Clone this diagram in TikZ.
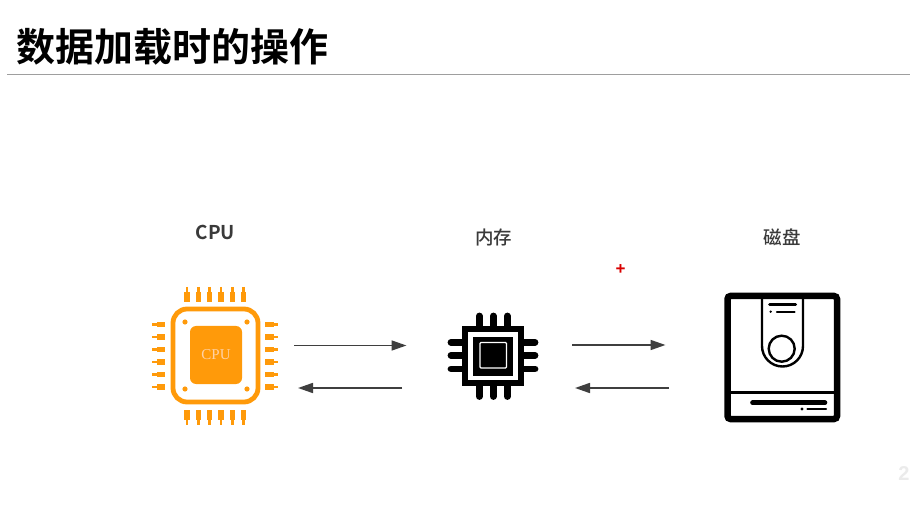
\documentclass[tikz,border=0pt]{standalone}
\usepackage{fontspec}
\setmainfont{Liberation Serif}
\newfontfamily\cjk{Noto Sans CJK SC Medium}
\newfontfamily\cjkb{Noto Sans CJK SC Bold}
\newfontfamily\latn{Liberation Sans}
\definecolor{cpuor}{HTML}{FF9A0A}
\definecolor{lab}{HTML}{3A3A3A}
\definecolor{arr}{HTML}{3F3F3F}
\usetikzlibrary{arrows.meta}
\tikzset{
  lbl/.style={text=lab,inner sep=0pt},
  flow/.style={draw=arr,line width=1.7pt,-{Triangle[length=15pt,width=10pt]},shorten >=0pt},
  thickpin/.style={draw=cpuor,line width=5.5pt},
  thinpin/.style={draw=cpuor,line width=2.6pt},
  mempin/.style={draw=black,line width=6.8pt,line cap=round},
  disk/.style={draw=black,line cap=round},
}
\begin{document}
\begin{tikzpicture}[x=1pt,y=-1pt]
\useasboundingbox (0,0) rectangle (910,510);
\fill[white] (0,0) rectangle (910,510);
% title
\node[anchor=west,inner sep=0pt] (title) at (16.5,46.5) {\fontsize{39}{39}\selectfont\cjkb 数据加载时的操作};
\coordinate (ruleL) at (7,74.5); \coordinate (ruleR) at (910,74.5);
\draw[draw=black!38,line width=1pt] (ruleL) -- (ruleR);
% labels
\node[lbl] (cpulabel) at (215.5,232.5) {\fontsize{19}{19}\selectfont\cjkb CPU};
\node[lbl] (memlabel) at (493.5,237.5) {\fontsize{18.5}{18.5}\selectfont\cjk 内存};
\node[lbl] (disklabel) at (782,237.5) {\fontsize{18.5}{18.5}\selectfont\cjk 磁盘};
\node[inner sep=0pt,text=red!85!black] (plus) at (620.5,269.5) {\fontsize{17}{17}\selectfont\latn\bfseries +};
\node[inner sep=0pt,text=black!8] (pageno) at (904,473.5) {\fontsize{20}{20}\selectfont\latn\bfseries 2};
% CPU chip
\draw[draw=cpuor,line width=4.8pt,rounded corners=14pt] (173,309) rectangle (258,402);
\fill[cpuor,rounded corners=6pt] (190,326) rectangle (242,384);
\node[inner sep=0pt,text=orange!35!white] (cputext) at (216,355) {\fontsize{15}{15}\selectfont CPU};
\foreach \x/\y in {185/322,247/322,185/389,247/389}
  \fill[cpuor] (\x,\y) circle (2.6);
\foreach \x in {187,198.3,209.7,221,232.3,243.3}{
  \draw[thickpin] (\x,292) -- (\x,302);
  \draw[thinpin] (\x,287) -- (\x,292);
  \draw[thickpin] (\x,410) -- (\x,420);
  \draw[thinpin] (\x,420) -- (\x,425);
}
\foreach \y in {324.3,337,349.7,362,374.7,387}{
  \draw[thickpin] (157,\y) -- (165,\y);
  \draw[thinpin] (152,\y) -- (157,\y);
  \draw[thickpin] (265,\y) -- (274,\y);
  \draw[thinpin] (274,\y) -- (278,\y);
}
% memory chip
\foreach \x in {479.3,493.3,507.3}{
  \draw[mempin] (\x,316) -- (\x,330);
  \draw[mempin] (\x,382) -- (\x,396.5);
}
\foreach \y in {342.3,355.3,369}{
  \draw[mempin] (451,\y) -- (466,\y);
  \draw[mempin] (520,\y) -- (535,\y);
}
\fill[black] (462,326) rectangle (524,386);
\fill[white] (468,332) rectangle (518,380);
\fill[black] (472.7,336.7) rectangle (513,375.7);
\draw[white,line width=1.2pt,rounded corners=1pt] (480,342.5) rectangle (506.5,368);
% disk
\draw[disk,line width=6.5pt,rounded corners=3pt] (727.5,296) rectangle (837,419);
\draw[disk,line width=3pt,line cap=butt] (727,392.3) -- (837,392.3);
\draw[disk,line width=2.4pt,line cap=butt] (762,296) -- (762,346) arc[start angle=180,end angle=0,radius=20.5] -- (803,296);
\draw[disk,line width=2.4pt] (781.7,348.7) circle (13);
\draw[disk,line width=3pt] (769.5,305) -- (795.5,305);
\draw[disk,line width=2.3pt] (777,311.7) -- (794.5,311.7);
\fill (770.7,311.7) circle (1.3);
\draw[disk,line width=4.6pt] (752.5,402.7) -- (825,402.7);
\draw[disk,line width=2.3pt] (807.5,409) -- (826,409);
\fill (802,409) circle (1.7);
% connectors
\coordinate (a1) at (294,345.5); \coordinate (a2) at (406.5,345.5);
\coordinate (b1) at (402,388); \coordinate (b2) at (298,388);
\coordinate (c1) at (572,345); \coordinate (c2) at (665.5,345);
\coordinate (d1) at (669,388); \coordinate (d2) at (575,388);
\draw[flow] (a1) -- (a2);
\draw[flow] (b1) -- (b2);
\draw[flow] (c1) -- (c2);
\draw[flow] (d1) -- (d2);
\end{tikzpicture}
\end{document}
